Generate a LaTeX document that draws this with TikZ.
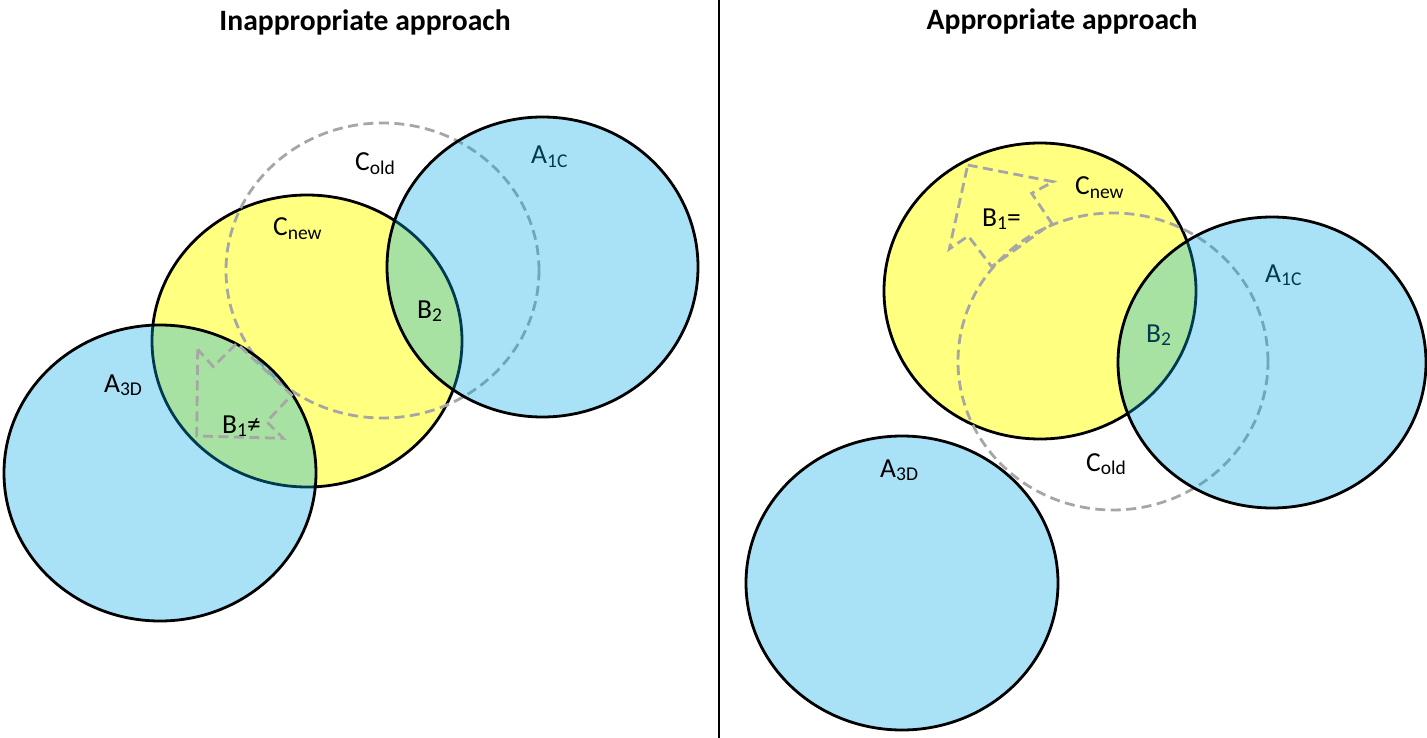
\documentclass[tikz,border=0pt]{standalone}
\usepackage{fontspec}
\setmainfont{Carlito}
\definecolor{setyellow}{RGB}{255,255,128}
\definecolor{setblue}{RGB}{2,170,231}
\definecolor{guidegray}{RGB}{166,166,166}
\newcommand\lsub[1]{\raisebox{-0.14em}{\fontsize{19.5}{19.5}\selectfont #1}}
\tikzset{
  ring/.style={draw=black, line width=2.8pt},
  yellowset/.style={ring, fill=setyellow},
  blueveil/.style={fill=setblue, fill opacity=0.34},
  guide/.style={draw=guidegray, line width=2.8pt, dash pattern=on 10pt off 5.5pt},
  lbl/.style={anchor=base west, inner sep=0pt, font=\fontsize{27.5}{27.5}\selectfont},
  ttl/.style={anchor=base, inner sep=0pt, font=\fontsize{29.6}{31}\selectfont\bfseries},
}
\begin{document}
\begin{tikzpicture}[x=1pt, y=-1pt]
\useasboundingbox (0,0) rectangle (1427,738);

% panel titles and separator
\node[ttl] (t1) at (365,31) {Inappropriate approach};
\node[ttl] (t2) at (1062,30) {Appropriate approach};
\coordinate (sepTop) at (719,0);
\coordinate (sepBot) at (719,738);
\draw[line width=2.6pt] (sepTop) -- (sepBot);

% ---------- left panel ----------
\path[yellowset] (307,341) ellipse [x radius=155pt, y radius=146pt];
\path[guide] (382.5,270.5) ellipse [x radius=156.5pt, y radius=147.5pt];
\node[lbl] (lCold) at (355,171) {C\lsub{old}};
\node[lbl] (lCnew) at (273,236) {C\lsub{new}};
\node[lbl] (lA1C) at (531,164) {A\lsub{1C}};
% A3D set
\path[blueveil] (160,473) ellipse [x radius=156pt, y radius=148pt];
\path[ring] (160,473) ellipse [x radius=156pt, y radius=148pt];
% A1C set
\path[blueveil] (542.5,267) ellipse [x radius=155.5pt, y radius=150pt];
\path[ring] (542.5,267) ellipse [x radius=155.5pt, y radius=150pt];
% B1 region outline
\path[guide] (197.7,349.3) -- (196.7,436) -- (283.3,438.3) -- (266.7,421.7)
  -- (291.7,395) -- (236.7,343.3) -- (213.3,366.7) -- cycle;
\node[lbl] (lB2) at (417,318) {B\lsub{2}};
\node[lbl] (lA3D) at (104,392) {A\lsub{3D}};
\node[lbl] (lB1) at (222,433) {B\lsub{1}≠};

% ---------- right panel ----------
\path[yellowset] (1040,291) ellipse [x radius=156pt, y radius=148pt];
\path[guide] (1113,361.5) ellipse [x radius=155pt, y radius=148.5pt];
\node[lbl] (rA1C) at (1265,282) {A\lsub{1C}};
\node[lbl] (rB2) at (1146,342) {B\lsub{2}};
% A1C set
\path[blueveil] (1272,362.5) ellipse [x radius=154pt, y radius=145.5pt];
\path[ring] (1272,362.5) ellipse [x radius=154pt, y radius=145.5pt];
% A3D set
\path[blueveil] (902,583) ellipse [x radius=156pt, y radius=147pt];
\path[ring] (902,583) ellipse [x radius=156pt, y radius=147pt];
% B1 region outline
\path[guide] (967.7,165) -- (1053.3,181.7) -- (1031.7,193.3) -- (1051.7,223.3)
  -- (991.7,266.7) -- (968.3,236) -- (949.3,249) -- cycle;
\node[lbl] (rCnew) at (1075,195) {C\lsub{new}};
\node[lbl] (rB1) at (982,226) {B\lsub{1}=};
\node[lbl] (rCold) at (1086,471) {C\lsub{old}};
\node[lbl] (rA3D) at (880,477) {A\lsub{3D}};
\end{tikzpicture}
\end{document}
